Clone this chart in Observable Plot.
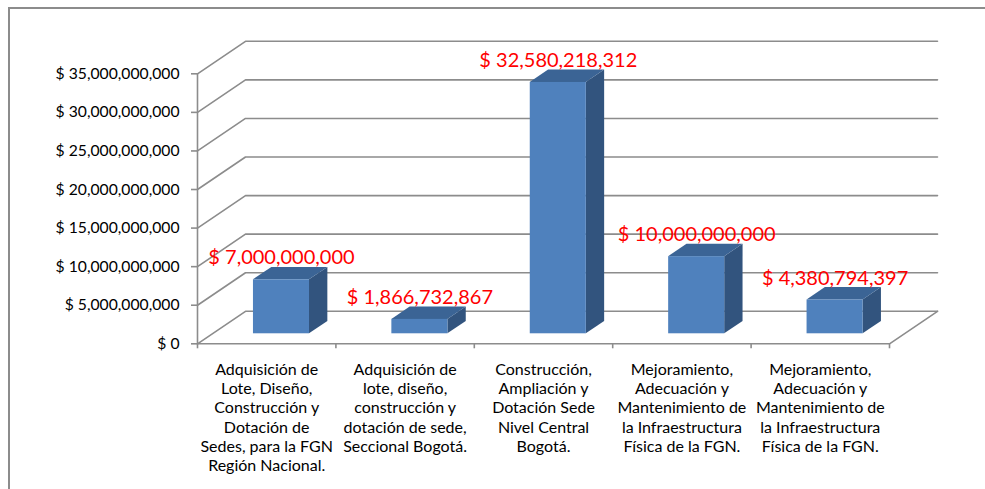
<!DOCTYPE html>
<html><head><meta charset="utf-8">
<script src="https://cdn.jsdelivr.net/npm/d3@7"></script>
<script src="https://cdn.jsdelivr.net/npm/@observablehq/plot@0.6"></script>
<style>
html,body{margin:0;padding:0;background:#fff;}
#wrap{position:relative;width:985px;height:489px;overflow:hidden;}
#border{position:absolute;left:8px;top:7px;width:1000px;height:600px;border:2px solid #8c8c8c;box-sizing:border-box;}
#chart{position:absolute;left:0;top:0;}
</style></head><body>
<div id="wrap"><div id="border"></div><div id="chart"></div></div>
<script>
// ---- data ----
const categories = [
  "Adquisición de\nLote, Diseño,\nConstrucción y\nDotación de\nSedes, para la FGN\nRegión Nacional.",
  "Adquisición de\nlote, diseño,\nconstrucción y\ndotación de sede,\nSeccional Bogotá.",
  "Construcción,\nAmpliación y\nDotación Sede\nNivel Central\nBogotá.",
  "Mejoramiento,\nAdecuación y\nMantenimiento de\nla Infraestructura\nFísica de la FGN.",
  "Mejoramiento,\nAdecuación y\nMantenimiento de\nla Infraestructura\nFísica de la FGN."
];
const values = [7000000000, 1866732867, 32580218312, 10000000000, 4380794397];
const yTicks = [0, 5e9, 10e9, 15e9, 20e9, 25e9, 30e9, 35e9];

// ---- 3D styling constants (depth offset in scale units) ----
const Dx = 0.3468;      // depth shift along x (category units)
const Dy = 4.213e9;     // depth shift along y (value units)
const barW = 0.405;     // bar width (category units)
const d0 = 0.308, d1 = 0.69; // bar depth start / end (fraction of depth)
const nCat = categories.length;
const money = v => "$ " + d3.format(",")(v);

const colFront = "#4f81bd", colSide = "#32547e", colTop = "#3b6495";
const gridCol = "#8c8c8c";

const bars = values.map((v, i) => {
  const xl = i + 0.5 - barW / 2 + d0 * Dx;
  return {i, v, xl, xr: xl + barW};
});
const sideFaces = bars.flatMap(b => [
  {i: b.i, x: b.xr, y1: d0 * Dy, y2: b.v + d0 * Dy},
  {i: b.i, x: b.xr + (d1 - d0) * Dx, y1: d1 * Dy, y2: b.v + d1 * Dy}
]);
const topFaces = bars.flatMap(b => [
  {i: b.i, y: b.v + d0 * Dy, x1: b.xl, x2: b.xr},
  {i: b.i, y: b.v + d1 * Dy, x1: b.xl + (d1 - d0) * Dx, x2: b.xr + (d1 - d0) * Dx}
]);
const grid = yTicks.flatMap(t => [
  {t, x: 0, y: t}, {t, x: Dx, y: t + Dy}, {t, x: nCat + Dx, y: t + Dy}
]);
const floorEdge = [{x: 0, y: 0}, {x: nCat, y: 0}, {x: nCat + Dx, y: Dy}];
const vaxis = [{x: 0, y: 0}, {x: 0, y: yTicks[yTicks.length - 1]}];

const chart = Plot.plot({
  width: 985, height: 489,
  marginLeft: 197, marginRight: 48, marginTop: 40.8, marginBottom: 145.7,
  style: {fontFamily: "Lato, 'Open Sans', sans-serif", fontSize: "15px", color: "#000", background: "transparent", overflow: "visible"},
  x: {domain: [0, nCat + Dx]},
  y: {domain: [0, yTicks[yTicks.length - 1] + Dy]},
  marks: [
    Plot.line(grid, {x: "x", y: "y", z: "t", stroke: gridCol, strokeWidth: 1.6}),
    Plot.line(floorEdge, {x: "x", y: "y", stroke: gridCol, strokeWidth: 1.6}),
    Plot.line(vaxis, {x: "x", y: "y", stroke: gridCol, strokeWidth: 1.6}),
    Plot.axisY({ticks: yTicks, tickSize: 6, tickPadding: 12, stroke: gridCol, strokeWidth: 1.6, fill: "#000", fontSize: 15.7, tickFormat: money, label: null}),
    Plot.axisX({ticks: d3.range(nCat + 1), tickSize: 5, stroke: gridCol, strokeWidth: 1.6, fill: "none", tickFormat: () => "", label: null}),
    Plot.areaY(sideFaces, {x: "x", y1: "y1", y2: "y2", z: "i", fill: colSide}),
    Plot.areaX(topFaces, {y: "y", x1: "x1", x2: "x2", z: "i", fill: colTop}),
    Plot.rect(bars, {x1: "xl", x2: "xr", y1: () => d0 * Dy, y2: b => b.v + d0 * Dy, fill: colFront}),
    Plot.text(bars, {x: b => (b.xl + b.xr) / 2, y: b => b.v + d1 * Dy, text: b => money(b.v), lineAnchor: "bottom", dy: -3, fill: "#ff0000", fontSize: 20}),
    Plot.text(categories, {x: (d, i) => i + 0.5, y: () => 0, text: d => d, lineAnchor: "top", dy: 17.1, lineHeight: 1.21, fontSize: 16, fill: "#000"})
  ]
});
document.getElementById("chart").appendChild(chart);
</script>
</body></html>
